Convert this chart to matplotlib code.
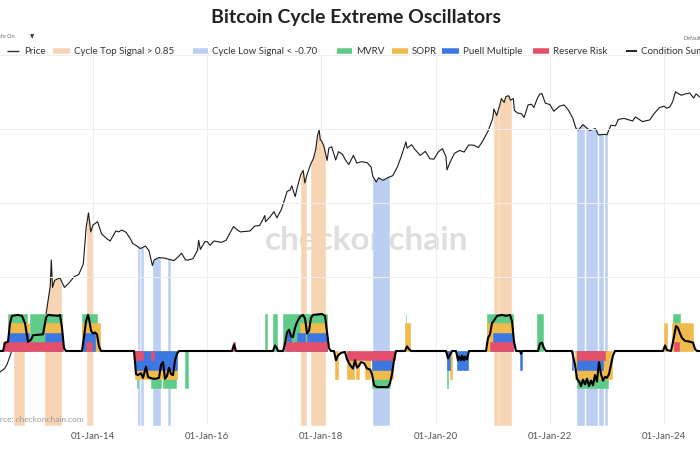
import numpy as np
import matplotlib
matplotlib.use('Agg')
import matplotlib.pyplot as plt
from matplotlib.lines import Line2D

plt.rcParams['font.family'] = ['Lato', 'DejaVu Sans']

# Bitcoin price (decimal year, USD)
price_t = [2012.37, 2012.45, 2012.50, 2012.55, 2012.62, 2012.63, 2012.66, 2012.71, 2012.75, 2012.83, 2012.92,
           2013.00, 2013.08, 2013.17, 2013.25, 2013.27, 2013.29, 2013.33, 2013.42, 2013.50, 2013.58, 2013.67,
           2013.75, 2013.83, 2013.88, 2013.92, 2013.96, 2014.00, 2014.08, 2014.15, 2014.25, 2014.30, 2014.40,
           2014.45, 2014.50, 2014.58, 2014.65, 2014.70, 2014.75, 2014.83, 2014.92, 2014.98, 2015.04, 2015.07,
           2015.15, 2015.25, 2015.33, 2015.42, 2015.50, 2015.55, 2015.62, 2015.67, 2015.75, 2015.83, 2015.85,
           2015.88, 2015.96, 2016.00, 2016.05, 2016.12, 2016.25, 2016.33, 2016.40, 2016.46, 2016.52, 2016.58,
           2016.67, 2016.75, 2016.83, 2016.92, 2016.99, 2017.01, 2017.02, 2017.10, 2017.17, 2017.22, 2017.30,
           2017.40, 2017.45, 2017.48, 2017.54, 2017.58, 2017.64, 2017.68, 2017.71, 2017.75, 2017.81, 2017.86,
           2017.90, 2017.93, 2017.96, 2017.98, 2018.00, 2018.04, 2018.10, 2018.13, 2018.18, 2018.25, 2018.30,
           2018.37, 2018.42, 2018.48, 2018.56, 2018.62, 2018.70, 2018.80, 2018.87, 2018.90, 2018.96, 2019.00,
           2019.08, 2019.17, 2019.25, 2019.33, 2019.40, 2019.48, 2019.50, 2019.58, 2019.63, 2019.73, 2019.82,
           2019.90, 2019.97, 2020.05, 2020.12, 2020.18, 2020.20, 2020.25, 2020.33, 2020.42, 2020.50, 2020.58,
           2020.67, 2020.75, 2020.83, 2020.92, 2021.00, 2021.02, 2021.07, 2021.13, 2021.15, 2021.20, 2021.23,
           2021.28, 2021.31, 2021.36, 2021.38, 2021.43, 2021.50, 2021.55, 2021.62, 2021.68, 2021.72, 2021.78,
           2021.82, 2021.86, 2021.92, 2022.00, 2022.07, 2022.17, 2022.25, 2022.33, 2022.40, 2022.46, 2022.50,
           2022.58, 2022.63, 2022.70, 2022.80, 2022.85, 2022.95, 2023.00, 2023.07, 2023.15, 2023.20, 2023.30,
           2023.45, 2023.50, 2023.62, 2023.75, 2023.83, 2023.92, 2024.00, 2024.05, 2024.10, 2024.15, 2024.20,
           2024.30, 2024.38, 2024.45, 2024.52, 2024.56, 2024.63]
price_v = [5.0, 5.6, 6.7, 8.8, 13.5, 15.0, 10.5, 11.5, 12.4, 10.8, 12.5,
           13.4, 20, 33, 93, 230, 90, 115, 125, 90, 105, 130,
           140, 200, 700, 1150, 600, 760, 850, 560, 470, 440, 620,
           600, 640, 590, 480, 400, 380, 340, 370, 315, 190, 230,
           250, 245, 235, 225, 260, 290, 230, 230, 240, 320, 450,
           330, 430, 430, 380, 440, 420, 450, 580, 720, 650, 600,
           610, 620, 730, 750, 970, 1050, 850, 1000, 1200, 970, 1300,
           2400, 2500, 2900, 2000, 2800, 4300, 4900, 3200, 4300, 6000, 7400,
           10000, 16000, 19500, 14000, 13500, 11500, 6900, 10500, 11000, 7000, 9300,
           8500, 7000, 6000, 8200, 6300, 6600, 6400, 5500, 4000, 3300, 3800,
           3500, 3850, 4100, 5500, 8000, 13000, 10500, 11800, 10200, 8200, 9400,
           7300, 7200, 9300, 10300, 7900, 5000, 6400, 8800, 9700, 9200, 11700,
           11600, 10700, 13600, 19000, 29000, 40000, 32000, 48000, 57000, 50000, 61000,
           63000, 54000, 57000, 38000, 35000, 34000, 30000, 46000, 47000, 42000, 57000,
           66000, 68000, 49000, 46500, 37000, 44000, 46000, 38000, 29500, 20500, 19500,
           23500, 21500, 19200, 20500, 16500, 16800, 16600, 23000, 22500, 28000, 29000,
           26500, 30500, 26000, 27500, 34500, 42000, 44000, 41000, 43000, 51000, 72000,
           64000, 67000, 69000, 58000, 67000, 60000]

# cycle signal periods (start, end)
top_bands = [(2012.616, 2012.791), (2013.159, 2013.439), (2013.895, 2013.982), (2017.642, 2017.730),
             (2017.818, 2018.063), (2021.023, 2021.093), (2021.110, 2021.320)]
low_bands = [(2014.788, 2014.814), (2014.840, 2014.875), (2015.050, 2015.173), (2015.313, 2015.348),
             (2018.903, 2019.184), (2022.476, 2022.599), (2022.634, 2022.826), (2022.861, 2022.931),
             (2022.966, 2023.001)]

# oscillator extremes (start, end): hi = overheated, lo = undervalued
mvrv_hi = [(2012.511, 2012.844), (2012.896, 2013.457), (2013.807, 2014.070), (2017.012, 2017.047),
           (2017.152, 2017.222), (2017.327, 2018.098), (2019.476, 2019.488), (2020.900, 2021.355),
           (2021.776, 2021.881), (2024.157, 2024.280)]
sopr_hi = [(2012.511, 2012.879), (2013.159, 2013.457), (2013.807, 2014.122), (2017.625, 2017.713),
           (2017.748, 2018.098), (2019.464, 2019.551), (2020.900, 2021.355), (2024.000, 2024.052),
           (2024.140, 2024.508)]
puell_hi = [(2012.511, 2012.879), (2013.159, 2013.457), (2013.825, 2014.035), (2017.397, 2017.467),
            (2017.572, 2017.713), (2017.748, 2018.098), (2021.005, 2021.355)]
rr_hi = [(2012.424, 2013.474), (2013.877, 2013.982), (2016.452, 2016.487), (2017.362, 2018.098),
         (2020.952, 2021.355), (2024.175, 2024.262)]

mvrv_lo = [(2014.770, 2014.788), (2015.015, 2015.191), (2015.226, 2015.453), (2015.611, 2015.663),
           (2018.886, 2019.201), (2020.199, 2020.217), (2022.476, 2023.019)]
sopr_lo = [(2014.735, 2015.471), (2018.238, 2018.290), (2018.448, 2018.570), (2018.605, 2018.658),
           (2018.763, 2018.851), (2018.886, 2019.253), (2020.252, 2020.287), (2022.441, 2023.089)]
puell_lo = [(2014.735, 2015.471), (2018.886, 2019.236), (2020.199, 2020.252), (2020.375, 2020.436),
            (2020.453, 2020.506), (2020.523, 2020.567), (2021.478, 2021.513), (2022.388, 2022.406),
            (2022.476, 2022.931)]
rr_lo = [(2014.735, 2014.875), (2015.015, 2015.068), (2018.448, 2019.289), (2022.476, 2022.966)]

# condition sum
cond_t = [2012.371, 2012.424, 2012.459, 2012.511, 2012.546, 2012.581, 2012.686, 2012.756, 2012.809, 2012.861,
          2012.914, 2012.949, 2013.124, 2013.177, 2013.212, 2013.387, 2013.422, 2013.457, 2013.492, 2013.527,
          2013.807, 2013.842, 2013.877, 2013.912, 2013.930, 2013.965, 2014.000, 2014.035, 2014.070, 2014.105,
          2014.140, 2014.718, 2014.753, 2014.788, 2014.840, 2014.875, 2014.928, 2014.963, 2014.998, 2015.050,
          2015.103, 2015.156, 2015.191, 2015.226, 2015.261, 2015.296, 2015.331, 2015.366, 2015.401, 2015.436,
          2015.471, 2015.506, 2016.434, 2016.469, 2016.504, 2017.152, 2017.187, 2017.222, 2017.240, 2017.327,
          2017.362, 2017.397, 2017.432, 2017.467, 2017.502, 2017.537, 2017.572, 2017.625, 2017.678, 2017.713,
          2017.748, 2017.783, 2017.818, 2017.853, 2018.010, 2018.063, 2018.098, 2018.133, 2018.168, 2018.220,
          2018.255, 2018.290, 2018.343, 2018.413, 2018.448, 2018.500, 2018.553, 2018.588, 2018.623, 2018.658,
          2018.693, 2018.746, 2018.798, 2018.851, 2018.886, 2018.921, 2018.973, 2019.166, 2019.201, 2019.236,
          2019.271, 2019.306, 2019.464, 2019.499, 2019.534, 2019.569, 2020.182, 2020.217, 2020.252, 2020.287,
          2020.357, 2020.392, 2020.410, 2020.445, 2020.462, 2020.497, 2020.515, 2020.550, 2020.585, 2020.882,
          2020.917, 2020.952, 2020.987, 2021.023, 2021.075, 2021.163, 2021.233, 2021.303, 2021.338, 2021.373,
          2021.408, 2021.478, 2021.495, 2021.513, 2021.793, 2021.828, 2021.863, 2021.898, 2021.933, 2022.388,
          2022.406, 2022.441, 2022.476, 2022.511, 2022.546, 2022.581, 2022.616, 2022.651, 2022.686, 2022.721,
          2022.756, 2022.791, 2022.826, 2022.861, 2022.896, 2022.931, 2022.966, 2023.001, 2023.036, 2023.071,
          2023.106, 2023.141, 2023.982, 2024.017, 2024.052, 2024.122, 2024.157, 2024.210, 2024.245, 2024.280,
          2024.315, 2024.367, 2024.455, 2024.508, 2024.543, 2024.578, 2024.630]
cond_v = [0, 0, 0.9, 1.0, 3.0, 3.8, 3.9, 3.8, 3.0, 1.0,
          1.2, 1.7, 1.8, 3.6, 3.9, 3.8, 3.9, 2.5, 0.3, 0,
          0, 1.5, 3.2, 3.9, 3.5, 2.2, 1.9, 2.0, 1.8, 0.5,
          0, 0, -2.5, -2.6, -2.4, -2.9, -1.7, -2.8, -2.9, -3.0,
          -3.0, -2.9, -1.5, -1.2, -3.0, -2.7, -1.8, -2.5, -2.6, -1.0,
          -0.3, 0, 0, 0.7, 0, 0, 0.6, 0.3, 0, 0,
          0.8, 2.0, 2.3, 1.6, 1.5, 2.5, 3.1, 3.7, 3.9, 3.5,
          1.9, 2.2, 3.6, 3.9, 4.0, 3.8, 2.0, 0.3, 0, 0,
          -1.0, -0.5, -0.2, -0.1, -0.9, -1.5, -1.9, -1.0, -1.8, -1.6,
          -1.2, -1.3, -1.9, -2.0, -2.5, -3.7, -3.9, -3.9, -3.5, -2.5,
          -1.0, 0, 0, 0.5, 0.2, 0, 0, -0.8, -0.4, 0,
          0, -1.0, -0.6, -1.0, -0.5, -1.0, -0.6, -0.9, 0, 0,
          1.4, 1.8, 3.0, 3.3, 3.8, 3.9, 3.8, 3.9, 3.2, 1.0,
          0, 0, -0.3, 0, 0, 0.8, 0.9, 0.3, 0, 0,
          -0.5, -1.5, -3.0, -3.3, -3.8, -3.1, -3.6, -3.0, -3.8, -3.2,
          -3.7, -2.6, -3.3, -1.2, -2.5, -3.2, -2.8, -2.9, -2.5, -1.5,
          -0.5, 0, 0, 0.6, 0.1, 0, 1.0, 2.7, 2.5, 1.9,
          1.4, 1.1, 1.0, 0.9, 0.2, 0, 0]

tick_years = [2014, 2016, 2018, 2020, 2022, 2024]
tick_labels = ['01-Jan-14', '01-Jan-16', '01-Jan-18', '01-Jan-20', '01-Jan-22', '01-Jan-24']

c_top = '#f7d5b4'
c_low = '#bccff3'
c_mvrv = '#5fcb88'
c_sopr = '#f1bb4c'
c_puell = '#3d78e2'
c_rr = '#e4506b'

fig = plt.figure(figsize=(7, 4.5), dpi=100)
axp = fig.add_axes([0, 25/450, 1, 370/450])
axo = axp.twinx()
axo.set_zorder(axp.get_zorder() + 1)
axo.patch.set_visible(False)

x0, x1 = 2012.371, 2024.63
p_lo, p_hi = 10**-0.087, 10**5.403

# price axis (log) with cycle bands
axp.set_yscale('log')
axp.set_xlim(x0, x1)
axp.set_ylim(p_lo, p_hi)
for bands, col in [(top_bands, c_top), (low_bands, c_low)]:
    for s, e in bands:
        xs = np.linspace(s, e, 12)
        ys = np.interp(xs, price_t, price_v)
        axp.fill_between(xs, p_lo, ys, color=col, linewidth=0.4, edgecolor=col, zorder=1)
axp.plot(price_t, price_v, color='#1a1a1a', lw=0.8, zorder=3)
axp.text(0.524, 0.50, 'checkonchain', transform=axp.transAxes, ha='center', va='center',
         fontsize=24, fontweight='bold', color='#dedede', zorder=0)

# oscillator axis
axo.set_ylim(-8, 32)
levels = [(mvrv_hi, mvrv_lo, 4, c_mvrv), (sopr_hi, sopr_lo, 3, c_sopr),
          (puell_hi, puell_lo, 2, c_puell), (rr_hi, rr_lo, 1, c_rr)]
for z, (hi, lo, h, col) in enumerate(levels):
    for spans, sign in [(hi, 1), (lo, -1)]:
        st = [s for s, e in spans]
        wd = [e - s for s, e in spans]
        axo.bar(st, [sign * h] * len(st), width=wd, align='edge', color=col,
                edgecolor=col, linewidth=0.4, zorder=2 + z)
axo.plot(cond_t, cond_v, color='black', lw=1.5, zorder=10)

for a in (axp, axo):
    for sp in a.spines.values():
        sp.set_visible(False)
axp.set_yticks([])
axp.set_yticks([], minor=True)
axo.set_yticks([-8, 0, 8, 16, 24, 32])
axo.tick_params(axis='y', length=0, labelright=False)
axo.grid(axis='y', color='#eeeeee', lw=0.7)
axo.set_axisbelow(True)
axp.set_xticks(tick_years)
axp.set_xticklabels(tick_labels)
axp.tick_params(axis='x', length=0, pad=5, labelsize=7, labelcolor='#555555')
axp.grid(axis='x', color='#eeeeee', lw=0.7)
axp.set_axisbelow(True)

fig.text(356/700, 1 - 17/450, 'Bitcoin Cycle Extreme Oscillators', ha='center', va='center',
         fontsize=14, fontweight='bold', color='#222222')

# legend row, drawn item by item to follow the original spacing
leg_y = 1 - 51/450
leg_items = [('Price', '#333333', 1.0, 7, 19, 24),
             ('Cycle Top Signal > 0.85', c_top, 4, 53, 70, 74),
             ('Cycle Low Signal < -0.70', c_low, 4, 193, 208, 212),
             ('MVRV', c_mvrv, 4, 337, 352, 356),
             ('SOPR', c_sopr, 4, 392, 408, 412),
             ('Puell Multiple', c_puell, 4, 442, 459, 463),
             ('Reserve Risk', c_rr, 4, 533, 549, 553),
             ('Condition Sum', 'black', 1.2, 626, 637, 641)]
for lab, col, lw, h0, h1, tx in leg_items:
    fig.add_artist(Line2D([h0/700, h1/700], [leg_y, leg_y], transform=fig.transFigure,
                          color=col, lw=lw, solid_capstyle='butt'))
    fig.text(tx/700, leg_y, lab, fontsize=7, color='#333333', va='center', ha='left')

fig.text(-0.005, 1 - 37/450, 'Info On', fontsize=4, color='#666666', va='center')
fig.text(30/700, 1 - 37/450, '\u25bc', fontsize=4, color='#333333', va='center',
         family=['DejaVu Sans'])
fig.text(683/700, 1 - 38/450, 'Default', fontsize=4, color='#666666', va='center')
fig.text(-0.02, 1 - 419/450, 'Source: checkonchain.com', fontsize=6, color='#999999', va='center')

fig.savefig('out.png', dpi=100)
